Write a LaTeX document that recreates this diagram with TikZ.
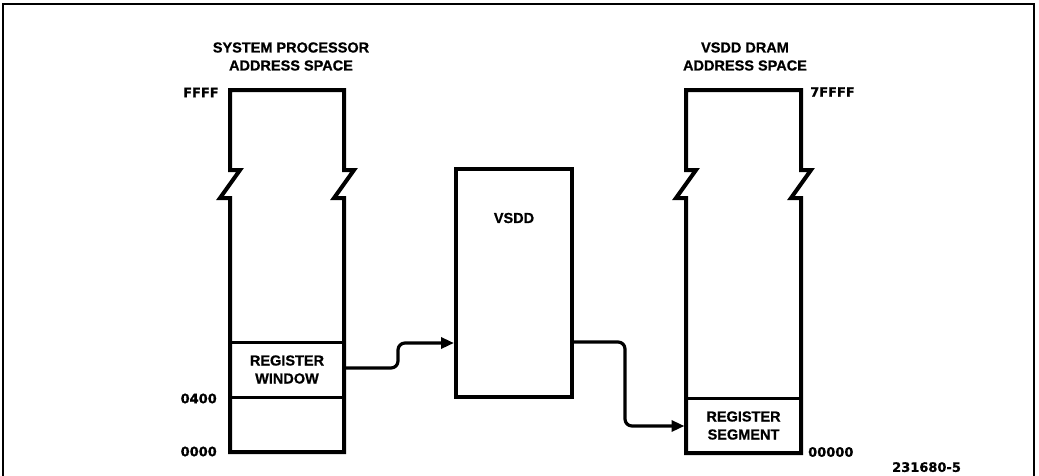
\documentclass[tikz,border=0pt]{standalone}
\usepackage{fontspec}
\setmainfont{Liberation Sans}[BoldFeatures={FakeBold=0.8}]
\newfontfamily\addrfont{DejaVu Sans}[BoldFeatures={FakeBold=0.8}]
\usetikzlibrary{arrows.meta}
\tikzset{
  lbl/.style={font=\bfseries\fontsize{14.5}{18}\selectfont, align=center, inner sep=0pt},
  addr/.style={font=\addrfont\bfseries\fontsize{13}{14}\selectfont, inner sep=0pt},
  membox/.style={line width=4pt, line join=miter},
  cell/.style={draw, line width=3pt, inner sep=0pt, align=center,
    font=\bfseries\fontsize{14.5}{18}\selectfont},
  frameline/.style={line width=2.5pt},
  conn/.style={line width=3.2pt, rounded corners=7pt, -{Triangle[length=13pt,width=11pt]}},
}
\begin{document}
\begin{tikzpicture}[x=1pt,y=-1pt]
\useasboundingbox (0,0) rectangle (1039,475);
\clip (0,0) rectangle (1039,475);
% outer frame
\draw[frameline] (3,480) -- (3,4) -- (1034,4) -- (1034,480);

% left memory column (system processor)
\draw[membox] (230,452) -- (230,198) -- (220,198) -- (240,170) -- (230,170) -- (230,90)
  -- (344,90) -- (344,170) -- (354,170) -- (334,198) -- (344,198) -- (344,452) -- cycle;
\node[cell, minimum width=114pt, minimum height=55pt] (win) at (287,369.5) {REGISTER\\WINDOW};

% right memory column (VSDD DRAM)
\draw[membox] (686,453) -- (686,198) -- (676,198) -- (696,170) -- (686,170) -- (686,90)
  -- (801,90) -- (801,170) -- (811,170) -- (791,198) -- (801,198) -- (801,453) -- cycle;
\node[cell, minimum width=115pt, minimum height=55pt] (seg) at (743.5,425.5) {REGISTER\\SEGMENT};

% VSDD block
\node[draw, line width=4pt, minimum width=116pt, minimum height=228pt, inner sep=0pt] (vsdd) at (514,283) {};
\node[lbl] (vsddlbl) at (514,218) {VSDD};

% titles
\node[lbl] (spt) at (291,56.5) {SYSTEM PROCESSOR\\ADDRESS SPACE};
\node[lbl] (vdt) at (745,56.5) {VSDD DRAM\\ADDRESS SPACE};

% addresses
\node[addr, anchor=west] (a1) at (183,92.5) {FFFF};
\node[addr, anchor=east] (a2) at (217,398.5) {0400};
\node[addr, anchor=east] (a3) at (217,451.5) {0000};
\node[addr, anchor=west] (a4) at (810,92) {7FFFF};
\node[addr, anchor=west] (a5) at (808,452) {00000};
\node[addr, anchor=north west] (fig) at (892,462) {231680-5};

% connectors
\coordinate (p1) at (398,368);
\coordinate (p2) at (398,343);
\draw[conn] (win.east |- p1) -- (p1) -- (p2) -- (vsdd.west |- p2);
\coordinate (q1) at (625,342);
\coordinate (q2) at (625,426);
\draw[conn] (vsdd.east |- q1) -- (q1) -- (q2) -- (seg.west |- q2);
\end{tikzpicture}
\end{document}
